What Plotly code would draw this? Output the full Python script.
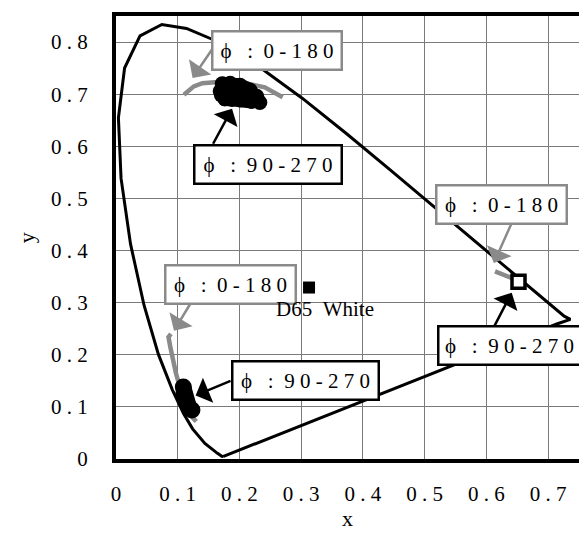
import plotly.graph_objects as go

NB = "\u00a0"

# ---- data ----
locus_x = [0.1741, 0.1714, 0.1644, 0.1566, 0.1440, 0.1241, 0.1096, 0.0913, 0.0687, 0.0454,
           0.0235, 0.0082, 0.0039, 0.0139, 0.0389, 0.0743, 0.1142, 0.1547, 0.2296, 0.3016,
           0.3731, 0.4441, 0.5125, 0.5752, 0.6270, 0.6658, 0.6915, 0.7079, 0.7190, 0.7260,
           0.7360, 0.7140, 0.1741]
locus_y = [0.0050, 0.0051, 0.0109, 0.0177, 0.0297, 0.0578, 0.0868, 0.1327, 0.2007, 0.2950,
           0.4127, 0.5384, 0.6548, 0.7502, 0.8120, 0.8338, 0.8262, 0.8059, 0.7543, 0.6923,
           0.6245, 0.5547, 0.4866, 0.4242, 0.3725, 0.3340, 0.3083, 0.2920, 0.2809, 0.2740,
           0.2680, 0.2590, 0.0050]

# phi: 0-180 (gray) and phi: 90-270 (black) for green, red, blue primaries
green_a_x = [0.110, 0.126, 0.140, 0.170, 0.200, 0.214, 0.241, 0.257, 0.270]
green_a_y = [0.699, 0.715, 0.721, 0.724, 0.722, 0.720, 0.713, 0.703, 0.694]
green_b1_x = [0.172, 0.185, 0.201, 0.217, 0.228, 0.233]
green_b1_y = [0.720, 0.721, 0.717, 0.708, 0.696, 0.684]
green_b2_x = [0.168, 0.182, 0.198, 0.213, 0.225]
green_b2_y = [0.706, 0.704, 0.702, 0.697, 0.689]
green_b3_x = [0.170, 0.176, 0.188, 0.201, 0.220]
green_b3_y = [0.698, 0.690, 0.689, 0.688, 0.685]

red_a_x = [0.614, 0.636, 0.648]
red_a_y = [0.360, 0.351, 0.344]
red_b_x = [0.652]
red_b_y = [0.340]

blue_a_x = [0.089, 0.085, 0.088, 0.092, 0.097, 0.103, 0.112, 0.120, 0.130]
blue_a_y = [0.240, 0.234, 0.215, 0.190, 0.165, 0.140, 0.110, 0.085, 0.072]
blue_b_x = [0.109, 0.110, 0.113, 0.118, 0.123]
blue_b_y = [0.138, 0.126, 0.113, 0.100, 0.094]

d65_x = [0.3127]
d65_y = [0.3290]

tick_x = [0, 0.1, 0.2, 0.3, 0.4, 0.5, 0.6, 0.7]
tick_y = [0, 0.1, 0.2, 0.3, 0.4, 0.5, 0.6, 0.7, 0.8]
tick_x_text = ["0", "0 . 1", "0 . 2", "0 . 3", "0 . 4", "0 . 5", "0 . 6", "0 . 7"]
tick_y_text = ["0", "0 . 1", "0 . 2", "0 . 3", "0 . 4", "0 . 5", "0 . 6", "0 . 7", "0 . 8"]

label_a = "ϕ : 0-180"
label_b = "ϕ : 90-270"
label_white = "D65 White"
# ----------------------------------

def spaced(s):
    out = ""
    for i, ch in enumerate(s):
        if ch == " ":
            out += NB * 2
        else:
            out += ch
            if i < len(s) - 1 and s[i + 1] != " ":
                out += NB
    return out

FONT = "Liberation Serif, Times New Roman, serif"
GRAY = "#8a8a8a"

fig = go.Figure()
fig.add_trace(go.Scatter(x=locus_x, y=locus_y, mode="lines",
                         line=dict(color="black", width=3), hoverinfo="skip"))
for xs, ys in [(green_a_x, green_a_y), (blue_a_x, blue_a_y), (red_a_x, red_a_y)]:
    fig.add_trace(go.Scatter(x=xs, y=ys, mode="lines",
                             line=dict(color=GRAY, width=4.5)))
for xs, ys, s in [(green_b1_x, green_b1_y, 15), (green_b2_x, green_b2_y, 14),
                  (green_b3_x, green_b3_y, 14), (blue_b_x, blue_b_y, 17)]:
    fig.add_trace(go.Scatter(x=xs, y=ys, mode="lines+markers",
                             line=dict(color="black", width=s - 1),
                             marker=dict(color="black", size=s, symbol="circle")))
fig.add_trace(go.Scatter(x=red_b_x, y=red_b_y, mode="markers",
                         marker=dict(color="white", size=13, symbol="square",
                                     line=dict(color="black", width=3.5))))
fig.add_trace(go.Scatter(x=d65_x, y=d65_y, mode="markers",
                         marker=dict(color="black", size=12, symbol="square")))

# arrows (tail -> tip)
arrows = [
    ((0.158, 0.790), (0.124, 0.731), GRAY),
    ((0.156, 0.602), (0.188, 0.672), "black"),
    ((0.641, 0.453), (0.612, 0.376), GRAY),
    ((0.612, 0.253), (0.641, 0.319), "black"),
    ((0.125, 0.307), (0.094, 0.246), GRAY),
    ((0.188, 0.151), (0.129, 0.122), "black"),
]
for (tx, ty), (hx, hy), c in arrows:
    fig.add_annotation(x=hx, y=hy, ax=tx, ay=ty, xref="x", yref="y", axref="x", ayref="y",
                       text="", showarrow=True, arrowhead=1, arrowsize=1.8,
                       arrowwidth=2.5, arrowcolor=c, standoff=0)

# label boxes (center, width)
boxes = [
    (0.261, 0.784, 119, label_a, GRAY),
    (0.246, 0.565, 137, label_b, "black"),
    (0.625, 0.489, 120, label_a, GRAY),
    (0.637, 0.218, 132, label_b, "black"),
    (0.185, 0.334, 120, label_a, GRAY),
    (0.307, 0.151, 136, label_b, "black"),
]
for cx, cy, w, t, c in boxes:
    fig.add_annotation(x=cx, y=cy, xref="x", yref="y", showarrow=False,
                       text=spaced(t).replace(":", NB + ":"), font=dict(family=FONT, size=21, color="black"),
                       bgcolor="white", bordercolor=c, borderwidth=2.5, borderpad=4,
                       width=w, height=28, xanchor="center", yanchor="middle", align="center")

fig.add_annotation(x=0.339, y=0.288, xref="x", yref="y", showarrow=False,
                   text=label_white.replace(" ", NB * 2), font=dict(family=FONT, size=21, color="black"),
                   xanchor="center", yanchor="middle")

# axis titles
fig.add_annotation(x=0.5, y=-0.134, xref="paper", yref="paper", showarrow=False,
                   text="x", font=dict(family=FONT, size=22, color="black"),
                   xanchor="center", yanchor="middle")
fig.add_annotation(x=-0.193, y=0.5, xref="paper", yref="paper", showarrow=False,
                   text="y", textangle=-90, font=dict(family=FONT, size=22, color="black"),
                   xanchor="center", yanchor="middle")

axis_common = dict(showgrid=True, gridcolor="#7a7a7a", gridwidth=1, zeroline=False,
                   showline=True, linecolor="black", linewidth=4, mirror=True, ticks="",
                   tickfont=dict(family=FONT, size=21, color="black"))
fig.update_xaxes(range=[0, 0.75], tickvals=tick_x, ticktext=tick_x_text,
                 ticklabelstandoff=13, **axis_common)
fig.update_yaxes(range=[0, 0.85], tickvals=tick_y, ticktext=tick_y_text,
                 ticklabelstandoff=20, **axis_common)

# page has an 8px body margin, so the figure is sized/offset to compensate
fig.update_layout(width=579, height=527, autosize=False, showlegend=False,
                  margin=dict(l=108, r=4, t=5, b=76),
                  paper_bgcolor="white", plot_bgcolor="white")

fig.write_html("out.html")
